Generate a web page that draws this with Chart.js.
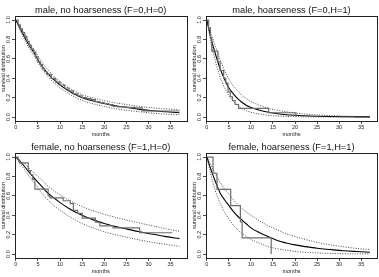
<!DOCTYPE html>
<html>
<head>
<meta charset="utf-8">
<script src="https://cdn.jsdelivr.net/npm/chart.js@4/dist/chart.umd.min.js"></script>
<style>
html, body { margin: 0; padding: 0; background: #fff; }
#wrap { position: relative; width: 379px; height: 277px; overflow: hidden; }
canvas { position: absolute; }
</style>
</head>
<body>
<div id="wrap">
  <canvas id="p1" width="190" height="138" style="left:0;top:0"></canvas>
  <canvas id="p2" width="188" height="138" style="left:191px;top:0"></canvas>
  <canvas id="p3" width="190" height="138" style="left:0;top:137px"></canvas>
  <canvas id="p4" width="188" height="138" style="left:191px;top:137px"></canvas>
</div>
<script>
// axis ticks
var xTicks = [0, 5, 10, 15, 20, 25, 30, 35];
var yTicks = [0, 0.2, 0.4, 0.6, 0.8, 1.0];

// grid of months for the fitted curves and their bands
var months = [0, 1, 2, 3, 4, 5, 6, 7, 8, 9, 10, 12, 14, 16, 18, 20, 22, 25, 28, 31, 34, 37];

// male, no hoarseness
var fitM0 = [1.00, 0.91, 0.82, 0.74, 0.67, 0.59, 0.52, 0.46, 0.41, 0.37, 0.33, 0.27, 0.22, 0.185, 0.16, 0.14, 0.12, 0.10, 0.08, 0.065, 0.055, 0.045];
var upM0  = [1.00, 0.93, 0.85, 0.77, 0.70, 0.63, 0.56, 0.50, 0.45, 0.40, 0.365, 0.30, 0.25, 0.215, 0.19, 0.17, 0.15, 0.13, 0.11, 0.095, 0.085, 0.075];
var loM0  = [1.00, 0.89, 0.79, 0.71, 0.64, 0.56, 0.49, 0.43, 0.38, 0.34, 0.30, 0.24, 0.19, 0.155, 0.13, 0.11, 0.09, 0.07, 0.055, 0.04, 0.03, 0.025];
var kmTimeM0 = [0, 0.5, 1, 1.5, 2, 2.5, 3, 3.5, 4, 4.5, 5, 5.5, 6, 6.5, 7, 8, 9, 10, 11, 12, 13, 14, 15, 16, 17, 18, 19, 20, 21, 22, 23, 25, 27, 28.6, 37];
var kmSurvM0 = [1, 0.95, 0.91, 0.87, 0.83, 0.78, 0.74, 0.70, 0.67, 0.62, 0.57, 0.54, 0.50, 0.47, 0.44, 0.40, 0.36, 0.33, 0.30, 0.27, 0.24, 0.22, 0.20, 0.19, 0.18, 0.16, 0.15, 0.14, 0.13, 0.11, 0.105, 0.10, 0.095, 0.063, 0.063];

// male, hoarseness
var fitM1 = [1.00, 0.80, 0.64, 0.50, 0.39, 0.30, 0.24, 0.19, 0.15, 0.12, 0.10, 0.07, 0.05, 0.035, 0.025, 0.02, 0.014, 0.009, 0.006, 0.004, 0.003, 0.002];
var upM1  = [1.00, 0.85, 0.72, 0.59, 0.48, 0.39, 0.32, 0.27, 0.22, 0.19, 0.16, 0.12, 0.09, 0.07, 0.055, 0.042, 0.032, 0.022, 0.015, 0.01, 0.007, 0.005];
var loM1  = [1.00, 0.75, 0.56, 0.41, 0.30, 0.22, 0.16, 0.12, 0.085, 0.065, 0.05, 0.03, 0.018, 0.011, 0.007, 0.005, 0.003, 0.002, 0.001, 0.0005, 0.0003, 0.0002];
var kmTimeM1 = [0, 0.4, 0.8, 1.1, 2.5, 3.0, 3.8, 4.3, 4.8, 5.3, 5.8, 6.4, 7.2, 14.0, 20.2];
var kmSurvM1 = [1, 0.92, 0.82, 0.68, 0.57, 0.48, 0.40, 0.35, 0.26, 0.21, 0.17, 0.13, 0.09, 0.045, 0];

// female, no hoarseness
var fitF0 = [1.00, 0.95, 0.90, 0.845, 0.79, 0.74, 0.69, 0.64, 0.60, 0.565, 0.53, 0.47, 0.42, 0.38, 0.345, 0.315, 0.29, 0.26, 0.23, 0.205, 0.18, 0.16];
var upF0  = [1.00, 0.965, 0.93, 0.885, 0.84, 0.80, 0.755, 0.71, 0.675, 0.64, 0.61, 0.555, 0.51, 0.47, 0.44, 0.41, 0.385, 0.35, 0.32, 0.29, 0.26, 0.235];
var loF0  = [1.00, 0.93, 0.87, 0.80, 0.74, 0.68, 0.62, 0.57, 0.525, 0.485, 0.45, 0.39, 0.335, 0.295, 0.26, 0.23, 0.205, 0.175, 0.145, 0.12, 0.10, 0.08];
var kmTimeF0 = [0, 0.5, 0.8, 2.8, 3.3, 3.8, 4.3, 7.3, 7.7, 10.7, 12.3, 13.0, 14.0, 15.0, 18.0, 19.0, 22.0, 28.0, 35.4];
var kmSurvF0 = [1, 0.97, 0.94, 0.86, 0.82, 0.77, 0.67, 0.60, 0.58, 0.55, 0.52, 0.45, 0.42, 0.37, 0.33, 0.29, 0.27, 0.22, 0.22];

// female, hoarseness
var fitF1 = [1.00, 0.86, 0.74, 0.63, 0.56, 0.50, 0.44, 0.39, 0.35, 0.31, 0.27, 0.22, 0.18, 0.14, 0.115, 0.095, 0.08, 0.06, 0.047, 0.035, 0.027, 0.02];
var upF1  = [1.00, 0.91, 0.82, 0.74, 0.67, 0.62, 0.56, 0.51, 0.47, 0.43, 0.40, 0.34, 0.29, 0.25, 0.21, 0.18, 0.155, 0.12, 0.095, 0.075, 0.058, 0.045];
var loF1  = [1.00, 0.80, 0.64, 0.52, 0.43, 0.36, 0.30, 0.25, 0.21, 0.18, 0.15, 0.11, 0.075, 0.055, 0.04, 0.028, 0.02, 0.012, 0.007, 0.004, 0.003, 0.002];
var kmTimeF1 = [0, 1.4, 2.3, 5.4, 7.6, 8.0, 14.6];
var kmSurvF1 = [1, 0.833, 0.667, 0.5, 0.333, 0.167, 0];

var FONT = '"Liberation Sans", Arial, Helvetica, sans-serif';

function pts(xs, ys) {
    return xs.map(function (x, i) { return { x: x, y: ys[i] }; });
}

// R style box round the plot and rotated y tick labels
var rFrame = {
    id: 'rFrame',
    afterDraw: function (chart) {
        var ctx = chart.ctx, a = chart.chartArea, y = chart.scales.y;
        ctx.save();
        ctx.strokeStyle = '#222';
        ctx.lineWidth = 1;
        ctx.strokeRect(Math.round(a.left) + 0.5, Math.round(a.top) + 0.5,
            Math.round(a.right - a.left), Math.round(a.bottom - a.top));
        ctx.fillStyle = '#222';
        ctx.font = '5.5px ' + FONT;
        ctx.textAlign = 'center';
        ctx.textBaseline = 'middle';
        yTicks.forEach(function (v) {
            ctx.save();
            ctx.translate(a.left - 7, y.getPixelForValue(v));
            ctx.rotate(-Math.PI / 2);
            ctx.fillText(v.toFixed(1), 0, 0);
            ctx.restore();
        });
        ctx.restore();
    }
};

function panel(id, title, kmT, kmS, fit, up, lo, padRight) {
    var dotted = { borderColor: '#333', borderWidth: 0.9, borderDash: [1, 1.5], pointRadius: 0, fill: false };
    new Chart(document.getElementById(id), {
        type: 'line',
        data: {
            datasets: [
                { data: pts(kmT, kmS), stepped: true, borderColor: '#6e6e6e', borderWidth: 1.2, pointRadius: 0, fill: false },
                Object.assign({ data: pts(months, up) }, dotted),
                Object.assign({ data: pts(months, lo) }, dotted),
                { data: pts(months, fit), borderColor: '#000', borderWidth: 1.1, pointRadius: 0, tension: 0.4, cubicInterpolationMode: 'monotone', fill: false }
            ]
        },
        options: {
            responsive: false,
            animation: false,
            devicePixelRatio: 1,
            layout: { padding: { left: 0, right: padRight, top: 0, bottom: 0 } },
            plugins: {
                legend: { display: false },
                tooltip: { enabled: false },
                title: {
                    display: true, text: title, fullSize: false, color: '#111',
                    font: { family: FONT, size: 9.3, weight: 'normal', lineHeight: 1.2 },
                    padding: { top: 5, bottom: 0 }
                }
            },
            scales: {
                x: {
                    type: 'linear', min: -0.2, max: 38.6,
                    afterBuildTicks: function (s) { s.ticks = xTicks.map(function (v) { return { value: v }; }); },
                    afterFit: function (s) { s.height = 17; },
                    grid: { drawOnChartArea: false, drawTicks: true, tickLength: 3, color: '#222', lineWidth: 0.8 },
                    border: { display: true, color: '#222', width: 1 },
                    ticks: { color: '#222', padding: 0, maxRotation: 0, autoSkip: false, includeBounds: false,
                        font: { family: FONT, size: 5.5 } },
                    title: { display: true, text: 'months', color: '#222', padding: 0,
                        font: { family: FONT, size: 5.5 } }
                },
                y: {
                    type: 'linear', min: -0.04, max: 1.04,
                    afterBuildTicks: function (s) { s.ticks = yTicks.map(function (v) { return { value: v }; }); },
                    afterFit: function (s) { s.width = 15; },
                    grid: { drawOnChartArea: false, drawTicks: true, tickLength: 3, color: '#222', lineWidth: 0.8 },
                    border: { display: true, color: '#222', width: 1 },
                    ticks: { display: false, includeBounds: false },
                    title: { display: true, text: 'survival distribution', color: '#222', padding: 0,
                        font: { family: FONT, size: 5.5 } }
                }
            }
        },
        plugins: [rFrame]
    });
}

panel('p1', 'male, no hoarseness (F=0,H=0)', kmTimeM0, kmSurvM0, fitM0, upM0, loM0, 3.5);
panel('p2', 'male, hoarseness (F=0,H=1)', kmTimeM1, kmSurvM1, fitM1, upM1, loM1, 2);
panel('p3', 'female, no hoarseness (F=1,H=0)', kmTimeF0, kmSurvF0, fitF0, upF0, loF0, 3.5);
panel('p4', 'female, hoarseness (F=1,H=1)', kmTimeF1, kmSurvF1, fitF1, upF1, loF1, 2);
</script>
</body>
</html>
